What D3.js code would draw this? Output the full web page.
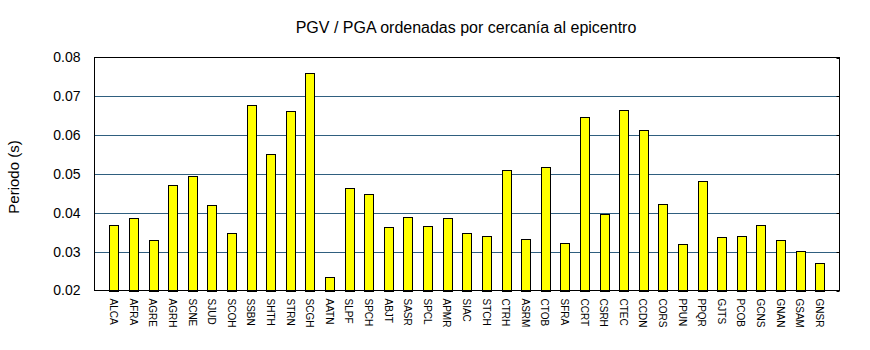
<!DOCTYPE html>
<html>
<head>
<meta charset="utf-8">
<script src="https://cdn.jsdelivr.net/npm/d3@7"></script>
<style>
  html, body { margin: 0; padding: 0; background: #fff; }
  svg { display: block; font-family: Arial, "Liberation Sans", sans-serif; }
</style>
</head>
<body>
<svg id="chart" width="870" height="350"></svg>
<script>
// Stations, ordered by distance to the epicentre
const categories = ["ALCA","AFRA","AGRE","AGRH","SCNE","SJUD","SCOH","SSBN","SHTH","STRN",
  "SCGH","AATN","SLPF","SPCH","ABJT","SASR","SPCL","APMR","SIAC","STCH",
  "CTRH","ASRM","CTOB","SFRA","CCRT","CSRH","CTEC","CCDN","CORS","PPUN",
  "PPQR","GJTS","PCOB","GCNS","GNAN","GSAM","GNSR"];
const values = [0.0369,0.0387,0.0331,0.0472,0.0495,0.0421,0.0349,0.0678,0.0552,0.0663,
  0.0761,0.0235,0.0464,0.0449,0.0364,0.0390,0.0367,0.0387,0.0349,0.0341,
  0.0511,0.0333,0.0519,0.0323,0.0647,0.0398,0.0665,0.0614,0.0423,0.0320,
  0.0483,0.0338,0.0341,0.0369,0.0331,0.0302,0.0271];
const yTicks = [0.02,0.03,0.04,0.05,0.06,0.07,0.08];

const svg = d3.select("#chart");
const plot = { left: 94.5, right: 839.5, top: 57.5, bottom: 290.5 };

const x = d3.scaleBand().domain(categories).range([plot.left, plot.right])
  .paddingInner(0.52).paddingOuter(0.76);
const y = d3.scaleLinear().domain([0.02, 0.08]).range([plot.bottom, plot.top]);

// title
svg.append("text").attr("x", 466).attr("y", 33).attr("text-anchor", "middle")
  .attr("font-size", 16).text("PGV / PGA ordenadas por cercanía al epicentro");

// y axis label
svg.append("text").attr("transform", "translate(19,177) rotate(-90)")
  .attr("text-anchor", "middle").attr("font-size", 15).text("Periodo (s)");

// gridlines
svg.append("g").selectAll("line").data(yTicks.slice(1, -1)).join("line")
  .attr("x1", plot.left).attr("x2", plot.right)
  .attr("y1", d => Math.round(y(d)) + 0.5).attr("y2", d => Math.round(y(d)) + 0.5)
  .attr("stroke", "#2f5f7f").attr("stroke-width", 1);

// y axis tick labels
const yAxis = d3.axisLeft(y).tickValues(yTicks).tickFormat(d3.format(".2f")).tickSize(0).tickPadding(14);
const ga = svg.append("g").attr("transform", `translate(${plot.left},0)`).call(yAxis);
ga.select(".domain").remove();
ga.selectAll("text").attr("font-size", 14).attr("font-family", "Arial, 'Liberation Sans', sans-serif")
  .attr("fill", "#000");

// right-side tick marks
svg.append("g").selectAll("line").data(yTicks).join("line")
  .attr("x1", plot.right - 3).attr("x2", plot.right)
  .attr("y1", d => Math.round(y(d)) + 0.5).attr("y2", d => Math.round(y(d)) + 0.5)
  .attr("stroke", "#000");

// bars
svg.append("g").selectAll("rect").data(values).join("rect")
  .attr("x", (d, i) => Math.round(x(categories[i])) + 0.5)
  .attr("y", d => Math.round(y(d)) + 0.5)
  .attr("width", Math.round(x.bandwidth()))
  .attr("height", d => Math.round(plot.bottom) - Math.round(y(d)))
  .attr("fill", "#ffff00").attr("stroke", "#000").attr("stroke-width", 1);

// plot frame
svg.append("rect").attr("x", plot.left).attr("y", plot.top).attr("width", plot.right - plot.left)
  .attr("height", plot.bottom - plot.top).attr("fill", "none").attr("stroke", "#000").attr("stroke-width", 1);

// x labels, rotated
const xAxis = d3.axisBottom(x).tickSize(0).tickPadding(0);
const gx = svg.append("g").attr("transform", `translate(0,${plot.bottom})`).call(xAxis);
gx.select(".domain").remove();
gx.selectAll("text")
  .attr("font-size", 10).attr("font-family", "Arial, 'Liberation Sans', sans-serif").attr("fill", "#000")
  .attr("text-anchor", "start").attr("dy", null).attr("y", 0)
  .attr("transform", "translate(-4,8) rotate(90)");
</script>
</body>
</html>
